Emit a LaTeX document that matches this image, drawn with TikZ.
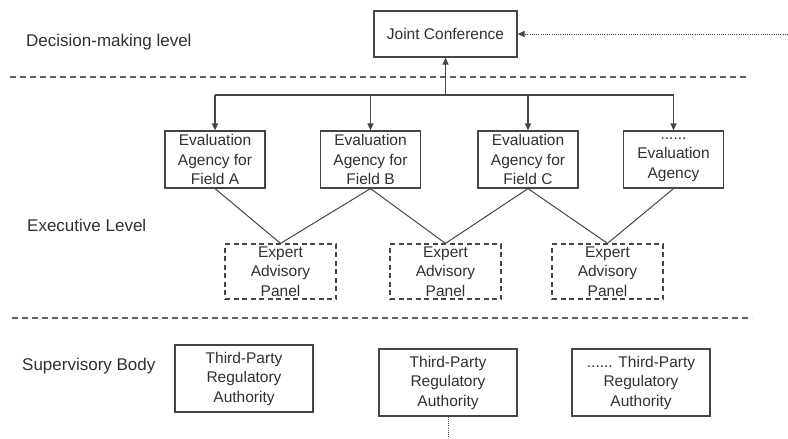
\documentclass[tikz,border=0pt]{standalone}
\usepackage{fontspec}
\setmainfont{Liberation Sans}
\usetikzlibrary{arrows.meta}
\definecolor{linec}{HTML}{454545}
\definecolor{textc}{HTML}{303030}
\newcommand\bxfont{\fontsize{15.5}{19.5}\selectfont}
\newcommand\lblfont{\fontsize{17}{20}\selectfont}
\begin{document}
\begin{tikzpicture}[x=1pt,y=-1pt,
  box/.style={draw=linec, line width=1.2pt, minimum width=100pt, minimum height=57pt, inner sep=0pt, align=center, font=\bxfont, text=textc},
  panel/.style={box, dashed, dash pattern=on 5pt off 3.5pt, minimum width=111pt, minimum height=55pt},
  regbox/.style={box, minimum width=138pt, minimum height=67pt},
  lbl/.style={anchor=west, font=\lblfont, text=textc, inner sep=0pt},
  sep/.style={draw=linec!85, line width=1.2pt, dash pattern=on 6pt off 4pt},
  conn/.style={draw=linec, line width=1.2pt},
  arr/.style={conn, -{Triangle[length=7pt,width=6pt]}},
  dotarr/.style={draw=linec, line width=1pt, dash pattern=on 1pt off 1.2pt, -{Triangle[length=7pt,width=6pt]}},
  dotl/.style={draw=linec, line width=1pt, dash pattern=on 1pt off 1.2pt}
]
\useasboundingbox (0,0) rectangle (788,439);

% level labels
\node[lbl] (l1) at (26,42) {Decision-making level};
\node[lbl] (l2) at (27,225) {Executive Level};
\node[lbl] (l3) at (22,366) {Supervisory Body};

% separators
\coordinate (s1a) at (10,77);
\coordinate (s1b) at (750,77);
\coordinate (s2a) at (12,318);
\coordinate (s2b) at (752,318);
\draw[sep] (s1a) -- (s1b);
\draw[sep] (s2a) -- (s2b);

% decision level
\node[box, minimum width=143pt, minimum height=46pt] (jc) at (445.5,34) {Joint Conference};
\coordinate (ext) at (788,34);
\draw[dotarr] (ext) -- (jc.east);

% evaluation agencies
\node[box] (ea) at (215,159.5) {Evaluation\\Agency for\\Field A};
\node[box] (eb) at (370.5,159.5) {Evaluation\\Agency for\\Field B};
\node[box] (ec) at (528,159.5) {Evaluation\\Agency for\\Field C};
\node[box] (ed) at (673.5,159.5) {......\\Evaluation\\Agency};

\coordinate (bus) at (445.5,95);
\coordinate (busl) at (ea.north |- bus);
\coordinate (busr) at (ed.north |- bus);
\draw[conn] (busl) -- (busr);
\draw[arr] (bus) -- (jc.south);
\draw[arr] (busl) -- (ea.north);
\draw[arr] (eb.north |- bus) -- (eb.north);
\draw[arr] (ec.north |- bus) -- (ec.north);
\draw[arr] (busr) -- (ed.north);

% expert panels
\node[panel] (p1) at (280.5,271.5) {Expert\\Advisory\\Panel};
\node[panel] (p2) at (445.5,271.5) {Expert\\Advisory\\Panel};
\node[panel] (p3) at (607.5,271.5) {Expert\\Advisory\\Panel};

\draw[conn, line width=1pt] (ea.south) -- (p1.north);
\draw[conn, line width=1pt] (eb.south) -- (p1.north);
\draw[conn, line width=1pt] (eb.south) -- (p2.north);
\draw[conn, line width=1pt] (ec.south) -- (p2.north);
\draw[conn, line width=1pt] (ec.south) -- (p3.north);
\draw[conn, line width=1pt] (ed.south) -- (p3.north);

% supervisory
\node[regbox] (r1) at (244,378.5) {Third-Party\\Regulatory\\Authority};
\node[regbox] (r2) at (448,382.5) {Third-Party\\Regulatory\\Authority};
\node[regbox] (r3) at (641,382.5) {...... Third-Party\\Regulatory\\Authority};
\coordinate (down) at (448,439);
\draw[dotl] (r2.south) -- (down);
\end{tikzpicture}
\end{document}
